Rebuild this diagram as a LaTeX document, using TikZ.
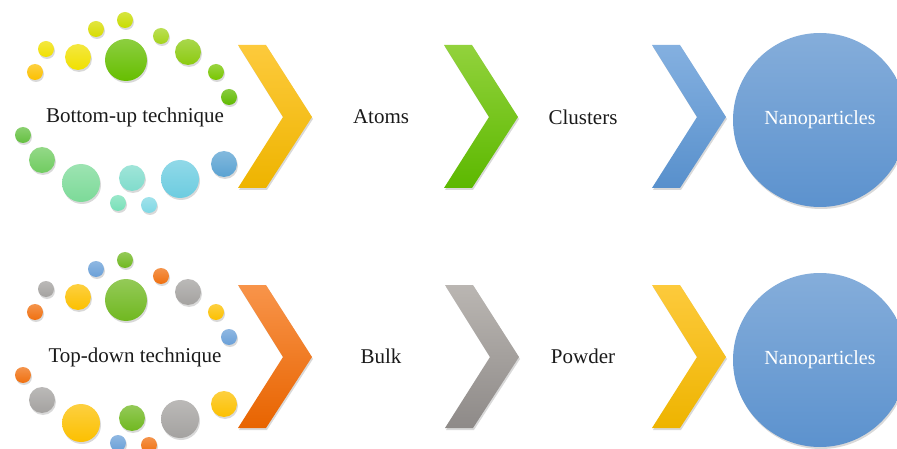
\documentclass[tikz,border=0pt]{standalone}
\usepackage{fontspec}
\setmainfont{Liberation Serif}
\usetikzlibrary{shadows}

\definecolor{textdark}{HTML}{1A1A1A}
\definecolor{npblue}{HTML}{5C92CE}

\begin{document}
\begin{tikzpicture}[x=1pt, y=-1pt,
        lbl/.style={text=textdark, font=\fontsize{21}{24}\selectfont},
        np/.style={circle, minimum size=174pt, inner sep=0pt, text=white,
            top color=npblue!75!white, bottom color=npblue,
            font=\fontsize{20}{24}\selectfont},
        shd/.style={drop shadow={shadow xshift=1pt, shadow yshift=-2pt, opacity=0.3}}]
    \clip (0,0) rectangle (897,449);

    %dots round the two technique labels, same layout, other colours
    \foreach \dy/\cols in {0/{C8DC00,D8DC00,A4D41C,F0E000,F0E000,66BE00,8CCA10,FCC000,78C600,60BA00,64C040,70CC60,7CDA98,80DCCC,6CCCE0,5AA2D2,78E0B8,80D8E4},
                           240/{70B820,6AA0D8,F07010,A4A2A0,FCC000,70B820,A4A2A0,F07010,FCC000,6AA0D8,F07010,A4A2A0,FCC000,70B820,A4A2A0,FCC000,6AA0D8,F07010}}{
        \foreach [count=\i] \x/\y/\r in {125/20/8, 96/29/8, 161/36/8, 46/49/8, 78/57/13, 126/60/21,
                                        188/52/13, 35/72/8, 216/72/8, 229/97/8, 23/135/8, 42/160/13,
                                        81/183/19, 132/178/13, 180/179/19, 224/164/13, 118/203/8, 149/205/8}{
            \foreach [count=\j] \c in \cols {
                \ifnum\i=\j
                    \definecolor{dot}{HTML}{\c}
                    \shade[top color=dot!75!white, bottom color=dot, shd] (\x,\y+\dy) circle [radius=\r];
                \fi
            }
        }
    }

    %chevrons
    \foreach \x/\y/\ct/\cb in {238/45/FDCA3C/EEB400, 444/45/92D23C/5CB800, 652/45/84B0E0/5890CC,
                               238/285/F8944A/E86400, 445/285/BAB6B2/8E8A88, 652/285/FDCA3C/EEB400}{
        \definecolor{ctop}{HTML}{\ct}
        \definecolor{cbot}{HTML}{\cb}
        \shade[top color=ctop, bottom color=cbot, shd]
            (\x,\y) -- ++(28,0) -- ++(46,72) -- ++(-46,71) -- ++(-28,0) -- ++(45,-71) -- cycle;
    }

    \node[lbl] (bottomup) at (135,117) {Bottom-up technique};
    \node[lbl] (atoms) at (381,117) {Atoms};
    \node[lbl] (clusters) at (583,117) {Clusters};
    \node[np, shd] (nanotop) at (820,120) {Nanoparticles};

    \node[lbl] (topdown) at (135,357) {Top-down technique};
    \node[lbl] (bulk) at (381,356) {Bulk};
    \node[lbl] (powder) at (583,356) {Powder};
    \node[np, shd] (nanobot) at (820,360) {Nanoparticles};
\end{tikzpicture}
\end{document}
